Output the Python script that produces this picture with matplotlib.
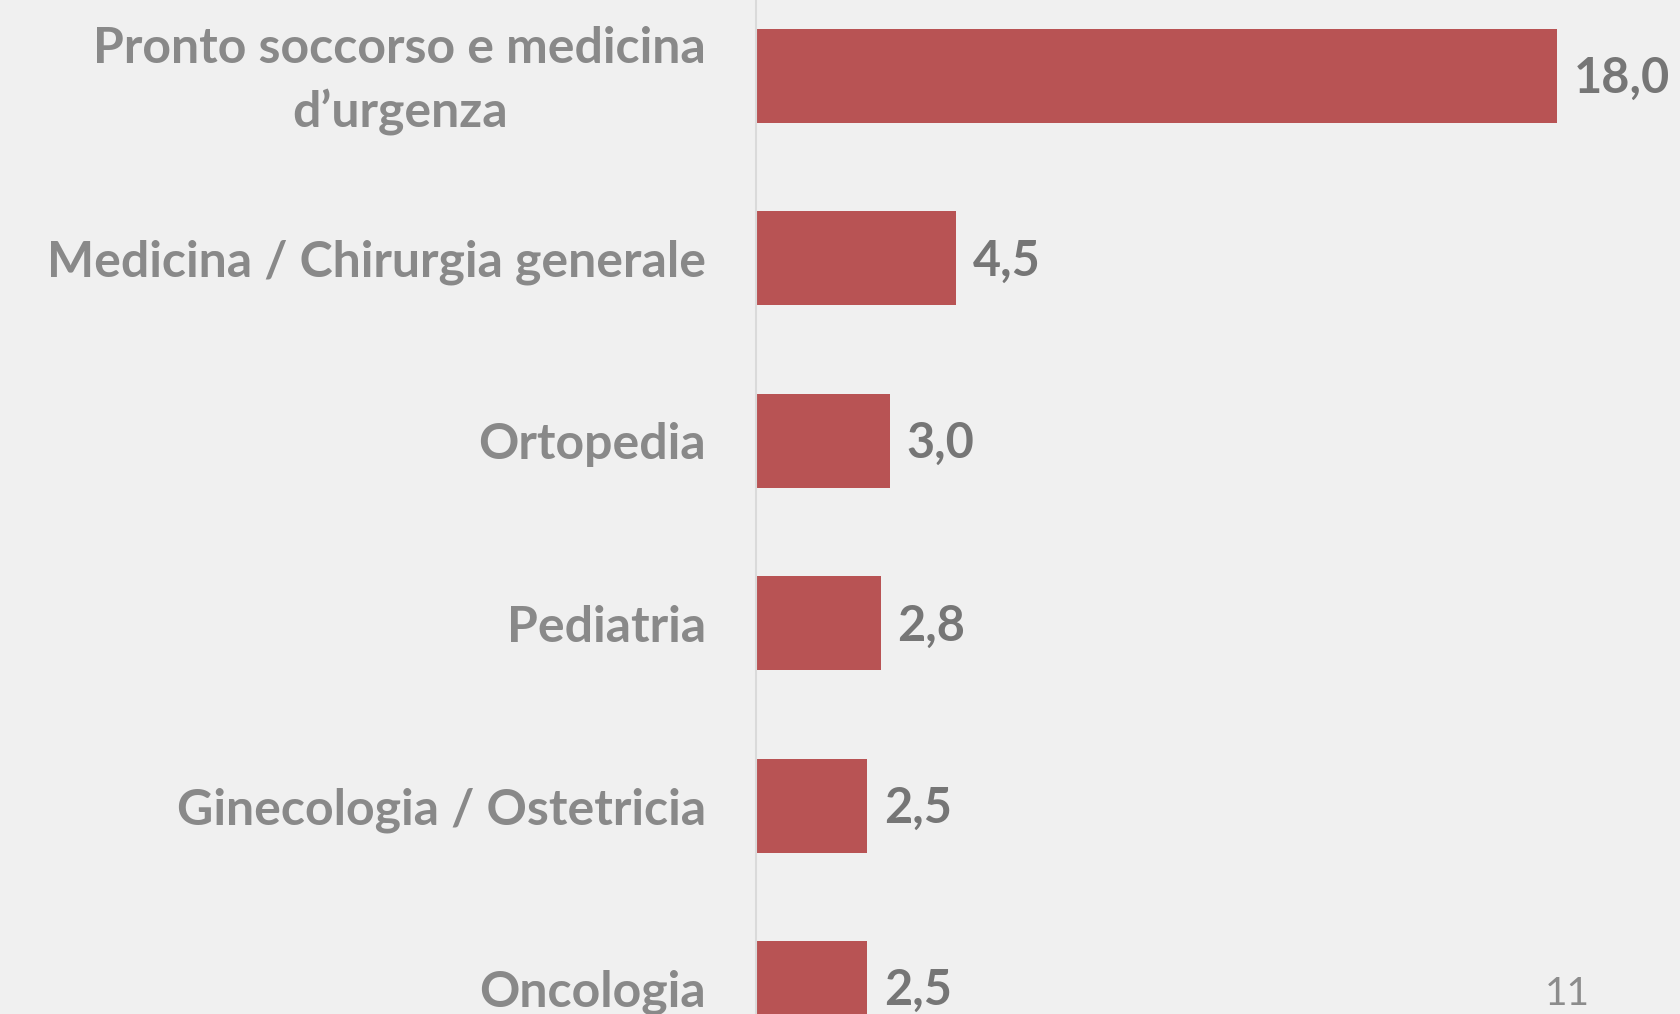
import matplotlib
matplotlib.use("Agg")
import matplotlib.pyplot as plt
import matplotlib.transforms as mtransforms

categories = ["Pronto soccorso e medicina\nd\u2019urgenza",
              "Medicina / Chirurgia generale",
              "Ortopedia",
              "Pediatria",
              "Ginecologia / Ostetricia",
              "Oncologia"]
values = [18.0, 4.5, 3.0, 2.8, 2.5, 2.5]
page_number = "11"

BG = "#f0f0f0"
BAR = "#b85354"
LABEL = "#898989"
VALUE = "#767676"

plt.rcParams['font.family'] = ['Lato', 'DejaVu Sans']

fig = plt.figure(figsize=(16.8, 10.14), dpi=100, facecolor=BG)
ax = fig.add_axes([756/1680, 0, 1 - 756/1680, 1])
ax.set_facecolor(BG)

pos = list(range(len(values)))
bars = ax.barh(pos, values, height=0.515, color=BAR, zorder=2)
ax.set_xlim(0, (1680 - 756) / 44.5)
ax.set_ylim((1014 - 76) / 182.4, -76 / 182.4)

ax.set_yticks(pos)
ax.set_yticklabels(categories, fontsize=36, fontweight='bold', color=LABEL,
                   multialignment='center', linespacing=1.45)
ax.tick_params(axis='y', length=0, pad=36)
ax.set_xticks([])
for s in ['top', 'right', 'bottom']:
    ax.spines[s].set_visible(False)
ax.spines['left'].set_color('#dadada')
ax.spines['left'].set_linewidth(1.5)

# nudge the two-line label slightly upward
first = ax.get_yticklabels()[0]
first.set_transform(first.get_transform() +
                    mtransforms.ScaledTranslation(0, 0.08, fig.dpi_scale_trans))

for b, v in zip(bars, values):
    ax.annotate(f"{v:.1f}".replace('.', ','), (b.get_width(), b.get_y() + b.get_height() / 2),
                xytext=(12, -2), textcoords='offset points', ha='left', va='center',
                fontsize=35, fontweight='bold', color=VALUE)

fig.text(1567/1680, 1 - 994/1014, page_number, ha='center', va='center',
         fontsize=28, color="#8c8c8c")

fig.savefig("out.png", dpi=100, facecolor=BG)
